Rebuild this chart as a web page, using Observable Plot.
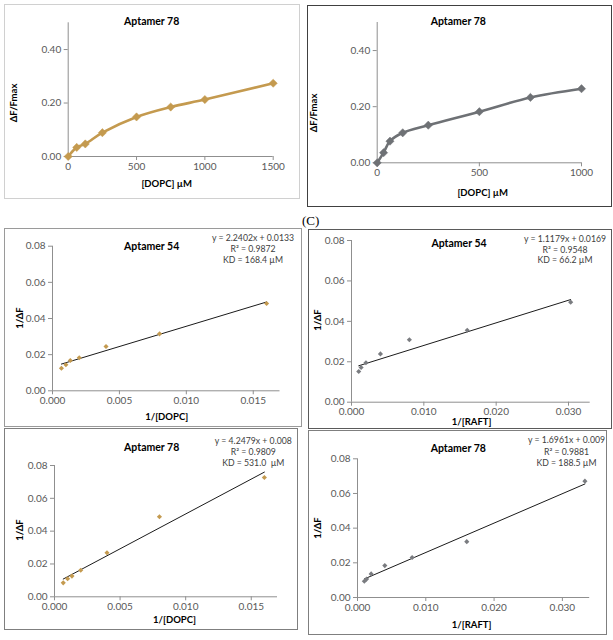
<!DOCTYPE html>
<html><head><meta charset="utf-8">
<script src="https://cdn.jsdelivr.net/npm/d3@7"></script>
<script src="https://cdn.jsdelivr.net/npm/@observablehq/plot@0.6"></script>
<style>
body{margin:0;background:#fff;}
#page{position:relative;width:613px;height:640px;overflow:hidden;font-family:Lato,"Liberation Sans",sans-serif;}
.box{position:absolute;box-sizing:border-box;border:1px solid #888;}
.abs{position:absolute;white-space:pre;line-height:1;}
.svgwrap{position:absolute;}
.svgwrap svg{display:block;overflow:visible;}
.title{font-weight:bold;font-size:10.5px;color:#000;transform:translate(-50%,-50%);}
.xlab{font-weight:bold;font-size:9.5px;color:#000;transform:translate(-50%,-50%);}
.ylab{font-weight:bold;font-size:9.5px;color:#000;transform:translate(-50%,-50%) rotate(-90deg);}
.eq{font-size:8.7px;color:#404040;transform:translate(-50%,-50%);text-align:center;}
.lbl{font-family:"Liberation Serif",serif;font-size:13px;color:#000;}
</style>
</head><body><div id="page"></div>
<script>
// ---- Data: saturation curves (Aptamer 78) ----
const dopcConc = [0, 62.5, 125, 250, 500, 750, 1000, 1500];
const dopcDF78 = [0, 0.034, 0.047, 0.089, 0.148, 0.185, 0.213, 0.274];
const raftConc = [0, 31.25, 62.5, 125, 250, 500, 750, 1000];
const raftDF78 = [0, 0.036, 0.077, 0.107, 0.134, 0.182, 0.233, 0.264];
// ---- Data: double-reciprocal plots ----
const invDOPC = [0.000667, 0.001, 0.00133, 0.002, 0.004, 0.008, 0.016];
const invDF54DOPC = [0.0125, 0.0144, 0.0168, 0.0183, 0.0245, 0.0315, 0.0483];
const invRAFT54 = [0.001, 0.00133, 0.002, 0.004, 0.008, 0.016, 0.0303];
const invDF54RAFT = [0.0152, 0.0172, 0.0195, 0.0239, 0.0309, 0.0356, 0.0495];
const invDF78DOPC = [0.0085, 0.011, 0.0126, 0.0162, 0.0268, 0.0488, 0.0727];
const invRAFT78 = [0.001, 0.00133, 0.002, 0.004, 0.008, 0.016, 0.0333];
const invDF78RAFT = [0.0094, 0.0106, 0.0136, 0.0184, 0.0231, 0.0322, 0.0671];
// ---- Trendline equations as labelled ----
const fitSlope = [2.2402, 1.1179, 4.2479, 1.6961];
const fitIntercept = [0.0133, 0.0169, 0.008, 0.009];
const eqText = ["y = 2.2402x + 0.0133", "y = 1.1179x + 0.0169", "y = 4.2479x + 0.008", "y = 1.6961x + 0.009"];
const r2Text = ["R² = 0.9872", "R² = 0.9548", "R² = 0.9809", "R² = 0.9881"];
const kdText = ["KD = 168.4 µM", "KD = 66.2 µM", "KD = 531.0  µM", "KD = 188.5 µM"];
// ---- Tick labels ----
const ticksDF = [0, 0.2, 0.4];
const ticksInvDF = [0, 0.02, 0.04, 0.06, 0.08];
const ticksDOPC = [0, 500, 1000, 1500];
const ticksRAFT = [0, 500, 1000];
const ticksInvDOPC = [0, 0.005, 0.010, 0.015];
const ticksInvRAFT = [0, 0.010, 0.020, 0.030];

const GOLD = "#C49A4F", GREY = "#6E7175", GREYPT = "#7A7C80";
const page = document.getElementById("page");

function addDiv(cls, x, y, text, extra){
  const d = document.createElement("div");
  d.className = "abs " + cls;
  d.style.left = x + "px"; d.style.top = y + "px";
  d.textContent = text;
  if (extra) Object.assign(d.style, extra);
  page.appendChild(d);
}

function panel(p){
  const {box, area} = p;
  const b = document.createElement("div");
  b.className = "box";
  Object.assign(b.style, {left: box.l+"px", top: box.t+"px", width:(box.r-box.l)+"px", height:(box.b-box.t)+"px", borderColor:p.border});
  page.appendChild(b);
  const axisC = "#8f8f8f";
  const chart = Plot.plot({
    width: box.r - box.l, height: box.b - box.t,
    marginLeft: area.xl - box.l, marginRight: box.r - area.xr,
    marginTop: area.yt - box.t, marginBottom: box.b - area.yb,
    style: {fontFamily: "Lato, 'Liberation Sans', sans-serif", fontSize: "10px", color: "#595959", background: "transparent"},
    x: {domain: p.xDomain, label: null},
    y: {domain: p.yDomain, label: null},
    marks: [
      Plot.axisX({ticks: p.xTicks, tickFormat: p.xFmt, tickSize: 4, tickPadding: 2, stroke: axisC, fill: "#595959", label: null}),
      Plot.axisY({ticks: p.yTicks, tickFormat: p.yFmt, tickSize: 4, tickPadding: 3, stroke: axisC, fill: "#595959", label: null}),
      Plot.ruleX([0], {stroke: axisC}),
      Plot.ruleY([0], {stroke: axisC}),
      ...p.marks
    ]
  });
  const w = document.createElement("div");
  w.className = "svgwrap";
  w.style.left = box.l + "px"; w.style.top = box.t + "px";
  w.appendChild(chart);
  page.appendChild(w);
  addDiv("title", p.title[0], p.title[1], p.title[2]);
  addDiv("ylab", p.ylab[0], p.ylab[1], p.ylab[2]);
  addDiv("xlab", p.xlab[0], p.xlab[1], p.xlab[2]);
  if (p.eq) {
    const i = p.eq.i;
    addDiv("eq", p.eq.x, p.eq.ys[0], eqText[i]);
    addDiv("eq", p.eq.x, p.eq.ys[1], r2Text[i]);
    addDiv("eq", p.eq.x, p.eq.ys[2], kdText[i]);
  }
}

function curveMarks(xs, ys, color){
  const data = xs.map((x, i) => ({x, y: ys[i]}));
  return [
    Plot.line(data, {x: "x", y: "y", stroke: color, strokeWidth: 2.6, curve: "catmull-rom"}),
    Plot.dot(data, {x: "x", y: "y", symbol: "diamond2", r: 3.7, fill: color, stroke: color, strokeWidth: 0.5})
  ];
}
function recipMarks(xs, ys, color, i){
  const data = xs.map((x, k) => ({x, y: ys[k]}));
  const ends = [d3.min(xs), d3.max(xs)].map(x => ({x, y: fitSlope[i]*x + fitIntercept[i]}));
  return [
    Plot.line(ends, {x: "x", y: "y", stroke: "#000", strokeWidth: 0.9}),
    Plot.dot(data, {x: "x", y: "y", symbol: "diamond2", r: 2.3, fill: color})
  ];
}
const f2 = d3.format(".2f"), f3 = d3.format(".3f"), f0 = d3.format("d");

panel({box:{l:4,t:4,r:300,b:199}, area:{xl:67.7,xr:272.7,yt:22.3,yb:156}, border:"#d0d0d0",
  xDomain:[0,1500], yDomain:[0,0.5], xTicks:ticksDOPC, yTicks:ticksDF, xFmt:f0, yFmt:f2,
  marks: curveMarks(dopcConc, dopcDF78, GOLD),
  title:[151.7,20.7,"Aptamer 78"], ylab:[14,102.7,"ΔF/Fmax"], xlab:[166.7,184,"[DOPC] µM"]});

panel({box:{l:307,t:5,r:612,b:207}, area:{xl:376.7,xr:581,yt:22,yb:162.3}, border:"#404040",
  xDomain:[0,1000], yDomain:[0,0.5], xTicks:ticksRAFT, yTicks:ticksDF, xFmt:f0, yFmt:f2,
  marks: curveMarks(raftConc, raftDF78, GREY),
  title:[458.3,20.7,"Aptamer 78"], ylab:[314,113,"ΔF/Fmax"], xlab:[482.7,193.3,"[DOPC] µM"]});

addDiv("lbl", 302, 214, "(C)");

panel({box:{l:4,t:228,r:302,b:427}, area:{xl:52,xr:279.5,yt:245.7,yb:390.3}, border:"#9a9a9a",
  xDomain:[0,0.017], yDomain:[0,0.08], xTicks:ticksInvDOPC, yTicks:ticksInvDF, xFmt:f3, yFmt:f2,
  marks: recipMarks(invDOPC, invDF54DOPC, GOLD, 0),
  title:[151.7,245.7,"Aptamer 54"], ylab:[20,318.3,"1/ΔF"], xlab:[166.7,416.7,"1/[DOPC]"],
  eq:{i:0, x:253, ys:[238.3,249,260]}});

panel({box:{l:308,t:229,r:612,b:429}, area:{xl:351,xr:589.7,yt:240,yb:401.7}, border:"#5a5a5a",
  xDomain:[0,0.033], yDomain:[0,0.08], xTicks:ticksInvRAFT, yTicks:ticksInvDF, xFmt:f3, yFmt:f2,
  marks: recipMarks(invRAFT54, invDF54RAFT, GREYPT, 1),
  title:[459,243.3,"Aptamer 54"], ylab:[318.3,320,"1/ΔF"], xlab:[471.7,422,"1/[RAFT]"],
  eq:{i:1, x:565, ys:[239,249.7,260.3]}});

panel({box:{l:4,t:428,r:298,b:630}, area:{xl:54,xr:277,yt:465,yb:596.3}, border:"#7f7f7f",
  xDomain:[0,0.017], yDomain:[0,0.08], xTicks:ticksInvDOPC, yTicks:ticksInvDF, xFmt:f3, yFmt:f2,
  marks: recipMarks(invDOPC, invDF78DOPC, GOLD, 2),
  title:[151.7,447.3,"Aptamer 78"], ylab:[20,530,"1/ΔF"], xlab:[174.5,620,"1/[DOPC]"],
  eq:{i:2, x:253.3, ys:[441,451.7,462.7]}});

panel({box:{l:308,t:430,r:607,b:635}, area:{xl:357,xr:589.2,yt:458.3,yb:597}, border:"#7f7f7f",
  xDomain:[0,0.034], yDomain:[0,0.08], xTicks:ticksInvRAFT, yTicks:ticksInvDF, xFmt:f3, yFmt:f2,
  marks: recipMarks(invRAFT78, invDF78RAFT, GREYPT, 3),
  title:[458.3,448.3,"Aptamer 78"], ylab:[318.3,528.3,"1/ΔF"], xlab:[471.7,625,"1/[RAFT]"],
  eq:{i:3, x:566.5, ys:[440,451.7,463.3]}});
</script>
</body></html>
